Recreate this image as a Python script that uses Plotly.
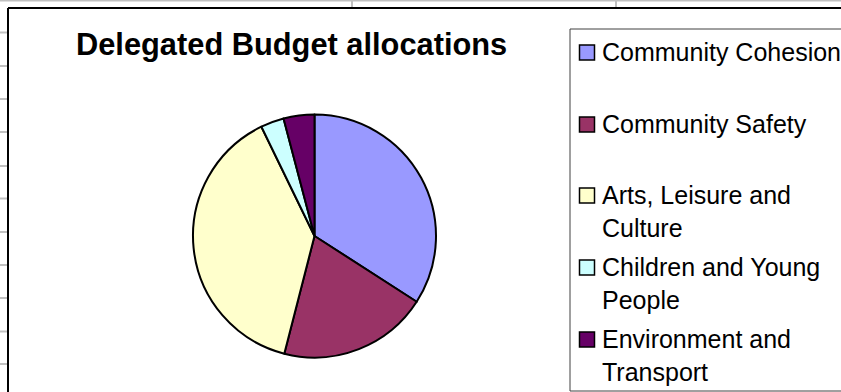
import plotly.graph_objects as go

W, H = 841, 392

categories = ["Community Cohesion", "Community Safety", "Arts, Leisure and Culture",
              "Children and Young People", "Environment and Transport"]
legend_labels = ["Community Cohesion", "Community Safety", "Arts, Leisure and<br>Culture",
                 "Children and Young<br>People", "Environment and<br>Transport"]
values = [34.1, 19.9, 38.8, 3.1, 4.1]
colors = ["#9999FF", "#993366", "#FFFFCC", "#CCFFFF", "#660066"]
title_text = "Delegated Budget allocations"


def px(x):
    return x / W


def py(y):
    return 1 - y / H


cx, cy, r = 314.5, 236, 121.5

fig = go.Figure()
fig.add_trace(go.Pie(
    labels=categories, values=values, sort=False, direction="clockwise", rotation=0,
    marker=dict(colors=colors, line=dict(color="black", width=2)),
    textinfo="none", hoverinfo="label+percent", showlegend=False,
    domain=dict(x=[px(cx - r), px(cx + r)], y=[py(cy + r), py(cy - r)]),
))

shapes = []
# spreadsheet gridlines behind the chart
shapes.append(dict(type="line", xref="paper", yref="paper", x0=0, x1=1, y0=py(0.5), y1=py(0.5),
                   line=dict(color="#C0C0C0", width=2)))
for gx in [352, 616]:
    shapes.append(dict(type="line", xref="paper", yref="paper", x0=px(gx), x1=px(gx), y0=py(0), y1=py(8),
                       line=dict(color="#C0C0C0", width=2)))
for gy in [32.5, 66, 99, 132, 166, 198.5, 232, 265, 298, 331.5, 364]:
    shapes.append(dict(type="line", xref="paper", yref="paper", x0=0, x1=px(8), y0=py(gy), y1=py(gy),
                       line=dict(color="#C0C0C0", width=2)))
# chart border
shapes.append(dict(type="line", xref="paper", yref="paper", x0=px(8), x1=1, y0=py(8), y1=py(8),
                   line=dict(color="black", width=2)))
shapes.append(dict(type="line", xref="paper", yref="paper", x0=px(8), x1=px(8), y0=py(8), y1=0,
                   line=dict(color="black", width=2)))
# legend box (left, top and bottom edges visible; right edge is off-canvas)
for (x0, y0, x1, y1) in [(570, 29, 841, 29), (570, 29, 570, 391), (570, 391, 841, 391)]:
    shapes.append(dict(type="line", xref="paper", yref="paper", x0=px(x0), x1=px(x1), y0=py(y0), y1=py(y1),
                       line=dict(color="#404040", width=1)))

annotations = []
item_centers = [52, 124, 195, 267, 339]
for lab, col, yc in zip(legend_labels, colors, item_centers):
    shapes.append(dict(type="rect", xref="paper", yref="paper", x0=px(579.5), x1=px(594.5),
                       y0=py(yc + 8), y1=py(yc - 7), fillcolor=col,
                       line=dict(color="black", width=1.5)))
    annotations.append(dict(text=lab, xref="paper", yref="paper", x=px(600), y=py(yc - 16),
                            xanchor="left", yanchor="top", align="left", showarrow=False,
                            font=dict(family="Liberation Sans, Arial, sans-serif", size=25, color="black")))

annotations.append(dict(text="<b>" + title_text + "</b>", xref="paper", yref="paper",
                        x=px(291.5), y=py(44), xanchor="center", yanchor="middle", showarrow=False,
                        font=dict(family="Liberation Sans, Arial, sans-serif", size=30.8, color="black")))

fig.update_layout(
    width=W, height=H, margin=dict(l=0, r=0, t=0, b=0),
    paper_bgcolor="white", plot_bgcolor="white",
    shapes=shapes, annotations=annotations, showlegend=False,
)

fig.write_html("out.html", config={"displayModeBar": False},
               post_script="document.body.style.margin='0';document.body.style.overflow='hidden';")
